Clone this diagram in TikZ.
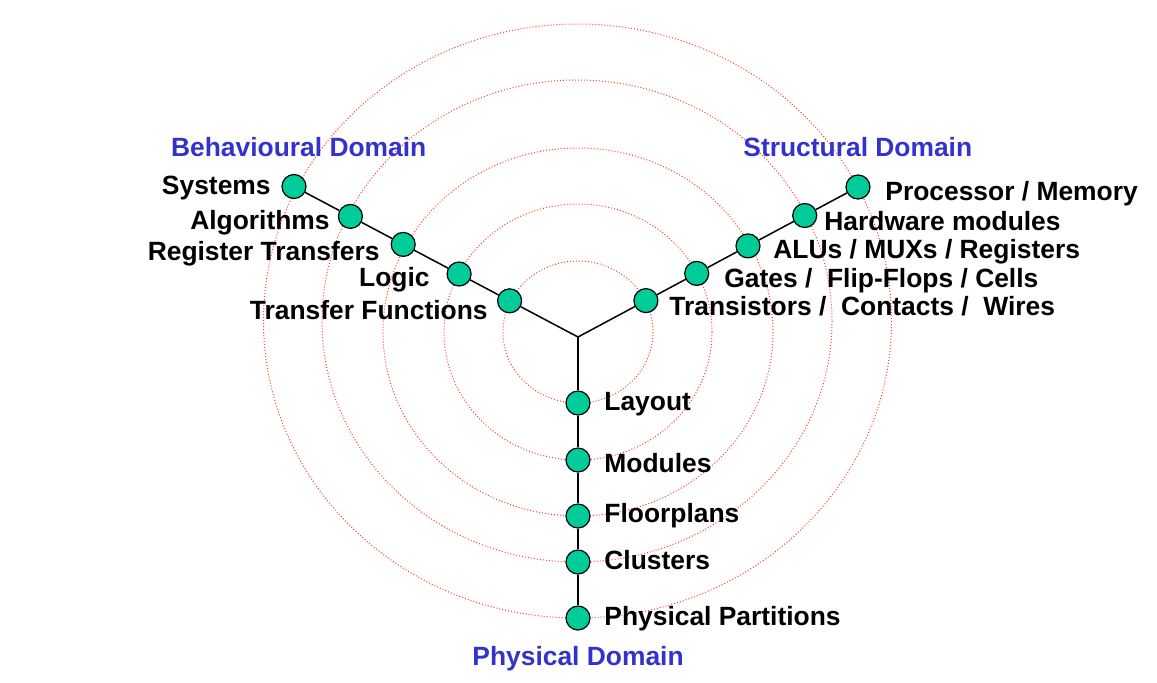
\documentclass[tikz,border=0pt]{standalone}
\usepackage{fontspec}
\setmainfont{Liberation Sans}
\definecolor{levelgreen}{RGB}{0,204,153}
\definecolor{domainblue}{RGB}{51,51,204}
\definecolor{ringred}{RGB}{255,64,32}
\tikzset{
  level/.style={circle, draw=black, fill=levelgreen, line width=0.6pt, minimum size=12pt, inner sep=0pt},
  axis/.style={draw=black, line width=0.75pt},
  ring/.style={draw=ringred, densely dotted, line width=0.5pt},
  lbl/.style={font=\fontsize{13.2}{15}\selectfont\bfseries, inner sep=0pt},
  domainlbl/.style={lbl, text=domainblue},
}
\begin{document}
\begin{tikzpicture}[x=0.5pt, y=-0.5pt]
  \useasboundingbox (0,0) rectangle (1157,682);

  % rings
  \draw[ring] (578,332) ellipse [x radius=75, y radius=71];
  \draw[ring] (578,332) ellipse [x radius=134, y radius=128];
  \draw[ring] (578,332) ellipse [x radius=195, y radius=184];
  \draw[ring] (577,321) ellipse [x radius=255, y radius=241];
  \draw[ring] (577.5,321) ellipse [x radius=314, y radius=297];

  \coordinate (J) at (578,337);

  % behavioural axis
  \node[level] (sys) at (294,186.5) {};
  \node[level] (alg) at (350.4,216.4) {};
  \node[level] (rt) at (403.2,244.4) {};
  \node[level] (lg) at (459.1,274) {};
  \node[level] (tf) at (509.6,300.8) {};

  % structural axis
  \node[level] (pm) at (858,187) {};
  \node[level] (hw) at (804.7,215.5) {};
  \node[level] (alu) at (748,245.9) {};
  \node[level] (gt) at (696.7,273.4) {};
  \node[level] (tr) at (645.9,300.6) {};

  % physical axis
  \node[level] (lay) at (578,403) {};
  \node[level] (mod) at (578,460) {};
  \node[level] (fp) at (578,516) {};
  \node[level] (cl) at (578,562) {};
  \node[level] (pp) at (578,618) {};

  \draw[axis] (J) -- (tf) -- (lg) -- (rt) -- (alg) -- (sys);
  \draw[axis] (J) -- (tr) -- (gt) -- (alu) -- (hw) -- (pm);
  \draw[axis] (J) -- (lay) -- (mod) -- (fp) -- (cl) -- (pp);

  \node[lbl, anchor=base east] (tsys) at (271,194.5) {Systems};
  \node[lbl, anchor=base east] (talg) at (330,229) {Algorithms};
  \node[lbl, anchor=base east] (trt) at (380,260) {Register Transfers};
  \node[lbl, anchor=base east] (tlg) at (430,286.7) {Logic};
  \node[lbl, anchor=base east] (ttf) at (488,319) {Transfer Functions};

  \node[lbl, anchor=base west] (tpm) at (885,200) {Processor / Memory};
  \node[lbl, anchor=base west] (thw) at (824,230) {Hardware modules};
  \node[lbl, anchor=base west] (talu) at (773,258) {ALUs / MUXs / Registers};
  \node[lbl, anchor=base west] (tgt) at (724,287) {Gates /\ \ Flip-Flops / Cells};
  \node[lbl, anchor=base west] (ttr) at (669,315) {Transistors /\ \ Contacts /\ \ Wires};

  \node[lbl, anchor=base west] (tlay) at (604,410) {Layout};
  \node[lbl, anchor=base west] (tmod) at (604,472.7) {Modules};
  \node[lbl, anchor=base west] (tfp) at (604,522.7) {Floorplans};
  \node[lbl, anchor=base west] (tcl) at (604,569.3) {Clusters};
  \node[lbl, anchor=base west] (tpp) at (604,625.7) {Physical Partitions};

  \node[domainlbl, anchor=base west] (beh) at (170.7,156.7) {Behavioural Domain};
  \node[domainlbl, anchor=base west] (str) at (743,156.7) {Structural Domain};
  \node[domainlbl, anchor=base west] (phy) at (472,665) {Physical Domain};
\end{tikzpicture}
\end{document}
